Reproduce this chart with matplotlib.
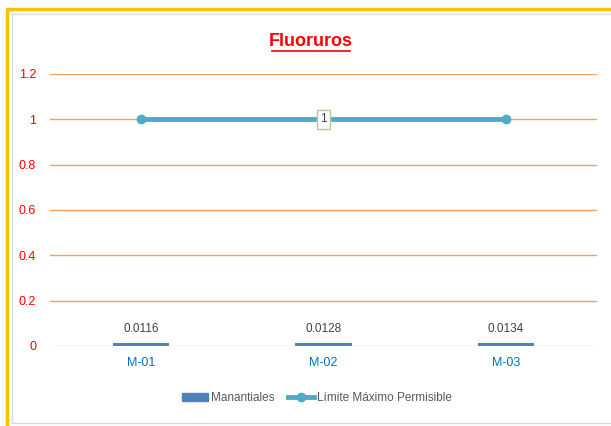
import matplotlib
matplotlib.use("Agg")
import matplotlib.pyplot as plt
from matplotlib.lines import Line2D

# data
categories = ["M-01", "M-02", "M-03"]
manantiales = [0.0116, 0.0128, 0.0134]
limite = [1, 1, 1]
yticks = [0, 0.2, 0.4, 0.6, 0.8, 1, 1.2]
ytick_labels = ["0", "0.2", "0.4", "0.6", "0.8", "1", "1.2"]

plt.rcParams['font.family'] = ['Liberation Sans', 'DejaVu Sans']

W, H = 611, 426
fig = plt.figure(figsize=(W / 100, H / 100), dpi=100)

# frame lines (yellow outer, gray inner)
def px_line(xs, ys, color, lw):
    fig.add_artist(Line2D([x / W for x in xs], [1 - y / H for y in ys],
                          color=color, lw=lw, transform=fig.transFigure))

px_line([7, 7, W], [H, 9, 9], '#FFC000', 2.5)
px_line([12, 12, W], [423, 14, 14], '#D9D9D9', 1)
px_line([12, W], [423, 423], '#D9D9D9', 1)

ax = fig.add_axes([50 / W, 80 / H, 547 / W, 272 / H])
x = range(len(categories))
ax.set_xlim(-0.5, 2.5)
ax.set_ylim(0, 1.2)

for y in yticks[1:]:
    ax.axhline(y, color='#F9A05A', lw=1, zorder=0)
ax.axhline(0, color='#D9D9D9', lw=1, zorder=0)

bars = ax.bar(x, manantiales, width=0.31, color='#4F81BD', label='Manantiales', zorder=2)
for xi, v in zip(x, manantiales):
    ax.text(xi, v + 0.035, f"{v:.4f}", ha='center', va='bottom', fontsize=8.5, color='#404040')

ax.plot([0, 2], [limite[0], limite[2]], color='#4BACC6', lw=3.5, marker='o',
        markersize=6, markevery=[0, 1], label='Límite Máximo Permisible', zorder=3)
ax.text(1, limite[1], "1", ha='center', va='center', fontsize=8.5, color='#404040', zorder=4,
        bbox=dict(boxstyle='square,pad=0.3', fc='white', ec='#C4BD97', lw=1))

ax.set_yticks(yticks)
ax.set_yticklabels(ytick_labels, color='#FF0000', fontsize=9)
ax.set_xticks(list(x))
ax.set_xticklabels(categories, color='#0070C0', fontsize=9)
ax.tick_params(length=0)
ax.tick_params(axis='y', pad=10)
ax.tick_params(axis='x', pad=8)
for s in ax.spines.values():
    s.set_visible(False)

fig.text(311 / W, 1 - 42 / H, "Fluoruros", ha='center', va='center', color='#FF0000',
         fontsize=13, fontweight='bold')
px_line([272, 350], [51, 51], '#FF0000', 1.2)

handles = [plt.Rectangle((0, 0), 1, 1, color='#4F81BD'),
           Line2D([], [], color='#4BACC6', lw=3.5, marker='o', markersize=6)]
fig.legend(handles, ['Manantiales', 'Límite Máximo Permisible'], loc='center',
           bbox_to_anchor=(317 / W, 1 - 398 / H), ncol=2, frameon=False, fontsize=8.5,
           handlelength=2.2, handletextpad=0.2, columnspacing=1.2, labelcolor='#595959')

fig.savefig('out.png', dpi=100)
